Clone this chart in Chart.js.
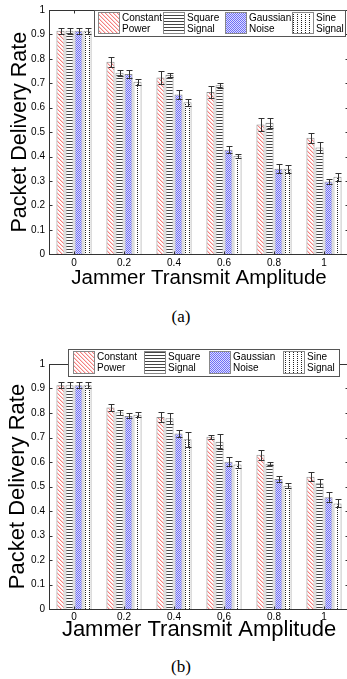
<!DOCTYPE html>
<html>
<head>
<meta charset="utf-8">
<script src="https://cdn.jsdelivr.net/npm/chart.js@4/dist/chart.umd.min.js"></script>
<style>
html, body { margin:0; padding:0; background:#fff; width:347px; height:679px; overflow:hidden; }
#wrap { position:relative; width:347px; height:679px; overflow:hidden; }
canvas { position:absolute; left:0; }
.cap { position:absolute; left:0; width:362px; text-align:center; line-height:20px;
       font-family:'Liberation Serif','Times New Roman',serif; font-size:17px; color:#000; }
</style>
</head>
<body>
<div id="wrap">
  <canvas id="chartA" width="352" height="300" style="top:0px"></canvas>
  <div class="cap" style="top:307px">(a)</div>
  <canvas id="chartB" width="352" height="310" style="top:340px"></canvas>
  <div class="cap" style="top:657px">(b)</div>
</div>
<script>
// categories + legend text
var amplitudes = ['0', '0.2', '0.4', '0.6', '0.8', '1'];
var seriesNames = [['Constant', 'Power'], ['Square', 'Signal'], ['Gaussian', 'Noise'], ['Sine', 'Signal']];

// (a) packet delivery rate
var aConstant    = [0.915, 0.788, 0.724, 0.664, 0.531, 0.477];
var aConstantErr = [0.012, 0.020, 0.026, 0.024, 0.026, 0.020];
var aSquare      = [0.915, 0.743, 0.735, 0.692, 0.538, 0.437];
var aSquareErr   = [0.012, 0.013, 0.008, 0.011, 0.019, 0.021];
var aGauss       = [0.915, 0.738, 0.654, 0.428, 0.350, 0.298];
var aGaussErr    = [0.012, 0.016, 0.019, 0.015, 0.019, 0.011];
var aSine        = [0.915, 0.706, 0.622, 0.403, 0.350, 0.317];
var aSineErr     = [0.012, 0.011, 0.013, 0.008, 0.017, 0.016];

// (b) packet delivery rate
var bConstant    = [0.913, 0.822, 0.784, 0.703, 0.630, 0.540];
var bConstantErr = [0.012, 0.013, 0.022, 0.009, 0.020, 0.018];
var bSquare      = [0.913, 0.803, 0.779, 0.683, 0.593, 0.513];
var bSquareErr   = [0.012, 0.010, 0.023, 0.031, 0.007, 0.016];
var bGauss       = [0.913, 0.788, 0.716, 0.601, 0.531, 0.456];
var bGaussErr    = [0.012, 0.010, 0.013, 0.019, 0.012, 0.020];
var bSine        = [0.913, 0.793, 0.693, 0.590, 0.503, 0.431];
var bSineErr     = [0.012, 0.010, 0.030, 0.015, 0.010, 0.016];

Chart.defaults.font.family = "'Liberation Sans', Arial, sans-serif";
Chart.defaults.color = '#000';

// hatch fills, like matlab hatchfill
function makePattern(w, h, draw) {
  var c = document.createElement('canvas');
  c.width = w; c.height = h;
  var g = c.getContext('2d');
  g.fillStyle = '#fff';
  g.fillRect(0, 0, w, h);
  draw(g);
  return g.createPattern(c, 'repeat');
}
var patRed = makePattern(4, 4, function (g) {
  for (var i = 0; i < 4; i++) {
    g.fillStyle = 'rgb(244,128,128)'; g.fillRect(i, i, 1, 1);
    g.fillStyle = 'rgb(252,210,210)'; g.fillRect((i + 1) % 4, i, 1, 1);
  }
});
var patSquare = makePattern(1, 3, function (g) {
  g.fillStyle = '#444'; g.fillRect(0, 0, 1, 1);
});
var patGauss = makePattern(2, 2, function (g) {
  g.fillStyle = 'rgb(220,220,255)'; g.fillRect(0, 0, 2, 2);
  g.fillStyle = 'rgb(110,110,245)'; g.fillRect(0, 0, 1, 1); g.fillRect(1, 1, 1, 1);
});
var patSine = makePattern(4, 2, function (g) {
  g.fillStyle = '#222'; g.fillRect(1, 0, 1, 1);
});
var patterns = [patRed, patSquare, patGauss, patSine];

var errorBars = {
  id: 'errorBars',
  afterDatasetsDraw: function (chart) {
    var ctx = chart.ctx, ys = chart.scales.y;
    ctx.save();
    ctx.strokeStyle = '#333';
    ctx.lineWidth = 1;
    chart.data.datasets.forEach(function (ds, i) {
      chart.getDatasetMeta(i).data.forEach(function (bar, j) {
        var v = ds.data[j], e = ds.errors[j];
        var x = Math.round(bar.x) + 0.5;
        var y1 = Math.round(ys.getPixelForValue(v + e)) + 0.5;
        var y2 = Math.round(ys.getPixelForValue(v - e)) + 0.5;
        ctx.beginPath();
        ctx.moveTo(x, y1); ctx.lineTo(x, y2);
        ctx.moveTo(x - 3, y1); ctx.lineTo(x + 3, y1);
        ctx.moveTo(x - 3, y2); ctx.lineTo(x + 3, y2);
        ctx.stroke();
      });
    });
    ctx.restore();
  }
};

// axes box with inward ticks, then the legend box on top
var frameAndLegend = {
  id: 'frameAndLegend',
  afterDraw: function (chart, args, opts) {
    var ctx = chart.ctx, a = chart.chartArea;
    var xs = chart.scales.x, ys = chart.scales.y;
    ctx.save();
    ctx.strokeStyle = '#333';
    ctx.lineWidth = 1;
    var L = Math.round(a.left) + 0.5, R = Math.round(a.right) - 0.5;
    var T = Math.round(a.top) + 0.5, B = Math.round(a.bottom) + 0.5;
    ctx.strokeRect(L, T, R - L, B - T);
    ctx.beginPath();
    ys.ticks.forEach(function (t) {
      var y = Math.round(ys.getPixelForValue(t.value)) + 0.5;
      ctx.moveTo(L, y); ctx.lineTo(L + 3, y);
      ctx.moveTo(R, y); ctx.lineTo(R - 3, y);
    });
    xs.ticks.forEach(function (t, i) {
      var x = Math.round(xs.getPixelForTick(i)) + 0.5;
      ctx.moveTo(x, B); ctx.lineTo(x, B - 3);
      ctx.moveTo(x, T); ctx.lineTo(x, T + 3);
    });
    ctx.stroke();

    // legend
    var bx = opts.box;
    ctx.fillStyle = '#fff';
    ctx.fillRect(bx[0], bx[1], bx[2] - bx[0], bx[3] - bx[1]);
    ctx.strokeStyle = '#555';
    ctx.strokeRect(bx[0] + 0.5, bx[1] + 0.5, bx[2] - bx[0], bx[3] - bx[1]);
    ctx.font = "10px 'Liberation Sans', Arial, sans-serif";
    ctx.textBaseline = 'middle';
    ctx.textAlign = 'left';
    chart.data.datasets.forEach(function (ds, i) {
      var sx = opts.swatchX[i];
      ctx.fillStyle = ds.backgroundColor;
      ctx.fillRect(sx, bx[1] + 2, 22, bx[3] - bx[1] - 4);
      ctx.strokeStyle = '#888';
      ctx.strokeRect(sx + 0.5, bx[1] + 2.5, 21, bx[3] - bx[1] - 5);
      ctx.fillStyle = '#000';
      ctx.fillText(ds.label[0], sx + 24, bx[1] + 8);
      ctx.fillText(ds.label[1], sx + 24, bx[1] + 19.5);
    });
    ctx.restore();
  }
};

function makeChart(id, series, errs, look) {
  var datasets = series.map(function (vals, i) {
    return {
      label: seriesNames[i],
      data: vals,
      errors: errs[i],
      backgroundColor: patterns[i],
      borderColor: '#8c8c8c',
      borderWidth: 1,
      categoryPercentage: 0.72,
      barPercentage: 0.9
    };
  });
  var H = look.height;
  return new Chart(document.getElementById(id), {
    type: 'bar',
    data: { labels: amplitudes, datasets: datasets },
    options: {
      responsive: false,
      animation: false,
      layout: { padding: { top: look.top, right: 3, left: 0, bottom: 0 } },
      plugins: {
        legend: { display: false },
        tooltip: { enabled: false },
        frameAndLegend: { box: look.box, swatchX: look.swatchX }
      },
      scales: {
        x: {
          grid: { display: false, drawTicks: false },
          border: { display: false },
          ticks: { font: { size: 10 }, color: '#000', padding: look.xPad },
          title: { display: true, text: 'Jammer Transmit Amplitude', color: '#000',
                   font: { size: look.xTitleSize }, padding: { top: 0, bottom: look.xTitlePad } },
          afterFit: function (s) { s.height = H - look.bottom; }
        },
        y: {
          min: 0, max: 1,
          grid: { display: false, drawTicks: false },
          border: { display: false },
          ticks: {
            stepSize: 0.1, font: { size: 10 }, color: '#000', padding: 4,
            callback: function (v) { return String(Math.round(v * 10) / 10); }
          },
          title: { display: true, text: 'Packet Delivery Rate', color: '#000',
                   font: { size: look.yTitleSize }, padding: { top: look.yTitlePad, bottom: 0 } },
          afterFit: function (s) { s.width = 49; }
        }
      }
    },
    plugins: [errorBars, frameAndLegend]
  });
}

makeChart('chartA',
  [aConstant, aSquare, aGauss, aSine],
  [aConstantErr, aSquareErr, aGaussErr, aSineErr],
  { height: 300, top: 7, bottom: 254.3, xPad: 3, xTitleSize: 20.5, xTitlePad: 9.7,
    yTitleSize: 21.5, yTitlePad: 7, box: [94, 10, 345, 36], swatchX: [98, 163, 225, 292] });

makeChart('chartB',
  [bConstant, bSquare, bGauss, bSine],
  [bConstantErr, bSquareErr, bGaussErr, bSineErr],
  { height: 310, top: 24, bottom: 269, xPad: 2, xTitleSize: 22, xTitlePad: 6.8,
    yTitleSize: 22, yTitlePad: 4.8, box: [68, 9, 339, 36], swatchX: [73, 144, 209, 283] });
</script>
</body>
</html>
